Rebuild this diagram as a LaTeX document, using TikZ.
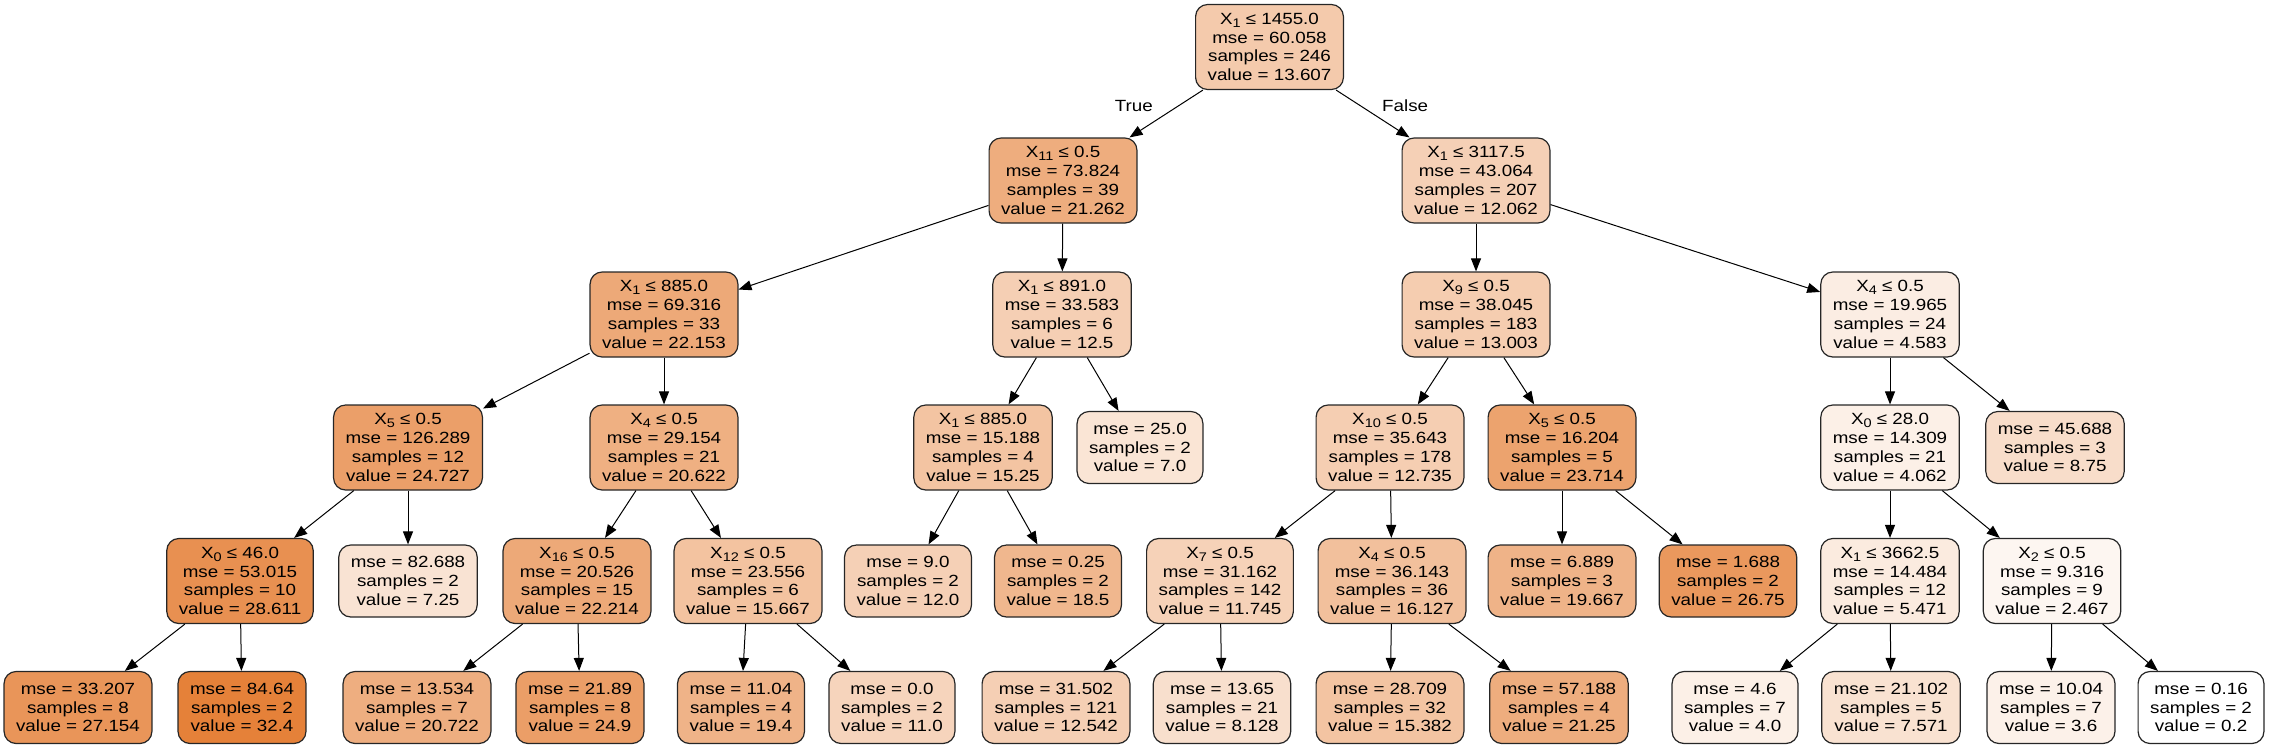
\documentclass[tikz,border=0pt]{standalone}
\usepackage{fontspec}
\setmainfont{Liberation Sans}[FakeStretch=1.16]
\usetikzlibrary{arrows.meta}
\definecolor{tcol}{HTML}{E58139}
\newcommand{\Xs}[1]{X\raisebox{-3pt}{\fontsize{12.5}{12.5}\selectfont #1}}
\tikzset{
  box/.style={draw=black!85, line width=1.2pt, rounded corners=12pt, align=center,
    inner xsep=12pt, inner ysep=2pt, font=\fontsize{16.2}{18.8}\selectfont},
  split/.style={box, minimum height=85pt},
  leaf/.style={box, minimum height=72pt},
  arr/.style={->, line width=1pt},
}
\begin{document}
\begin{tikzpicture}[x=1pt,y=-1pt,>={Triangle[length=13pt,width=10pt]}]
\useasboundingbox (0,0) rectangle (2273,748);
% depth 0 and 1
\node[split,fill=tcol!42!white] (n0) at (1269.5,47) {\Xs{1} ≤ 1455.0\\mse = 60.058\\samples = 246\\value = 13.607};
\node[split,fill=tcol!65!white] (n1) at (1063,180.5) {\Xs{11} ≤ 0.5\\mse = 73.824\\samples = 39\\value = 21.262};
\node[split,fill=tcol!37!white] (n2) at (1476,180.5) {\Xs{1} ≤ 3117.5\\mse = 43.064\\samples = 207\\value = 12.062};
% depth 2
\node[split,fill=tcol!68!white] (n3) at (664,314.5) {\Xs{1} ≤ 885.0\\mse = 69.316\\samples = 33\\value = 22.153};
\node[split,fill=tcol!38!white] (n4) at (1062,314.5) {\Xs{1} ≤ 891.0\\mse = 33.583\\samples = 6\\value = 12.5};
\node[split,fill=tcol!40!white] (n5) at (1476,314.5) {\Xs{9} ≤ 0.5\\mse = 38.045\\samples = 183\\value = 13.003};
\node[split,fill=tcol!14!white] (n6) at (1890,314.5) {\Xs{4} ≤ 0.5\\mse = 19.965\\samples = 24\\value = 4.583};
% depth 3
\node[split,fill=tcol!76!white] (n7) at (408,447.5) {\Xs{5} ≤ 0.5\\mse = 126.289\\samples = 12\\value = 24.727};
\node[split,fill=tcol!63!white] (n8) at (664,447.5) {\Xs{4} ≤ 0.5\\mse = 29.154\\samples = 21\\value = 20.622};
\node[split,fill=tcol!47!white] (n9) at (983,447.5) {\Xs{1} ≤ 885.0\\mse = 15.188\\samples = 4\\value = 15.25};
\node[leaf,fill=tcol!21!white] (n10) at (1140,447.5) {mse = 25.0\\samples = 2\\value = 7.0};
\node[split,fill=tcol!39!white] (n11) at (1390,447.5) {\Xs{10} ≤ 0.5\\mse = 35.643\\samples = 178\\value = 12.735};
\node[split,fill=tcol!73!white] (n12) at (1562,447.5) {\Xs{5} ≤ 0.5\\mse = 16.204\\samples = 5\\value = 23.714};
\node[split,fill=tcol!12!white] (n13) at (1890,447.5) {\Xs{0} ≤ 28.0\\mse = 14.309\\samples = 21\\value = 4.062};
\node[leaf,fill=tcol!27!white] (n14) at (2055,447.5) {mse = 45.688\\samples = 3\\value = 8.75};
% depth 4
\node[split,fill=tcol!88!white] (n15) at (240,581) {\Xs{0} ≤ 46.0\\mse = 53.015\\samples = 10\\value = 28.611};
\node[leaf,fill=tcol!22!white] (n16) at (408,581) {mse = 82.688\\samples = 2\\value = 7.25};
\node[split,fill=tcol!68!white] (n17) at (577,581) {\Xs{16} ≤ 0.5\\mse = 20.526\\samples = 15\\value = 22.214};
\node[split,fill=tcol!48!white] (n18) at (748,581) {\Xs{12} ≤ 0.5\\mse = 23.556\\samples = 6\\value = 15.667};
\node[leaf,fill=tcol!37!white] (n19) at (908,581) {mse = 9.0\\samples = 2\\value = 12.0};
\node[leaf,fill=tcol!57!white] (n20) at (1058,581) {mse = 0.25\\samples = 2\\value = 18.5};
\node[split,fill=tcol!36!white] (n21) at (1220,581) {\Xs{7} ≤ 0.5\\mse = 31.162\\samples = 142\\value = 11.745};
\node[split,fill=tcol!50!white] (n22) at (1392,581) {\Xs{4} ≤ 0.5\\mse = 36.143\\samples = 36\\value = 16.127};
\node[leaf,fill=tcol!60!white] (n23) at (1562,581) {mse = 6.889\\samples = 3\\value = 19.667};
\node[leaf,fill=tcol!82!white] (n24) at (1728,581) {mse = 1.688\\samples = 2\\value = 26.75};
\node[split,fill=tcol!16!white] (n25) at (1890,581) {\Xs{1} ≤ 3662.5\\mse = 14.484\\samples = 12\\value = 5.471};
\node[split,fill=tcol!7!white] (n26) at (2052,581) {\Xs{2} ≤ 0.5\\mse = 9.316\\samples = 9\\value = 2.467};
% depth 5
\node[leaf,fill=tcol!84!white] (n27) at (78,707.5) {mse = 33.207\\samples = 8\\value = 27.154};
\node[leaf,fill=tcol] (n28) at (242,707.5) {mse = 84.64\\samples = 2\\value = 32.4};
\node[leaf,fill=tcol!64!white] (n29) at (417,707.5) {mse = 13.534\\samples = 7\\value = 20.722};
\node[leaf,fill=tcol!77!white] (n30) at (580,707.5) {mse = 21.89\\samples = 8\\value = 24.9};
\node[leaf,fill=tcol!60!white] (n31) at (741,707.5) {mse = 11.04\\samples = 4\\value = 19.4};
\node[leaf,fill=tcol!34!white] (n32) at (892,707.5) {mse = 0.0\\samples = 2\\value = 11.0};
\node[leaf,fill=tcol!38!white] (n33) at (1056,707.5) {mse = 31.502\\samples = 121\\value = 12.542};
\node[leaf,fill=tcol!25!white] (n34) at (1222,707.5) {mse = 13.65\\samples = 21\\value = 8.128};
\node[leaf,fill=tcol!47!white] (n35) at (1390,707.5) {mse = 28.709\\samples = 32\\value = 15.382};
\node[leaf,fill=tcol!65!white] (n36) at (1559,707.5) {mse = 57.188\\samples = 4\\value = 21.25};
\node[leaf,fill=tcol!12!white] (n37) at (1735,707.5) {mse = 4.6\\samples = 7\\value = 4.0};
\node[leaf,fill=tcol!23!white] (n38) at (1891,707.5) {mse = 21.102\\samples = 5\\value = 7.571};
\node[leaf,fill=tcol!11!white] (n39) at (2051,707.5) {mse = 10.04\\samples = 7\\value = 3.6};
\node[leaf,fill=white] (n40) at (2201,707.5) {mse = 0.16\\samples = 2\\value = 0.2};
% connectors
\draw[arr] (n0) -- (n1) node[pos=0.33,left=22pt,font=\fontsize{16.2}{18.8}\selectfont] {True};
\draw[arr] (n0) -- (n2) node[pos=0.33,right=18pt,font=\fontsize{16.2}{18.8}\selectfont] {False};
\foreach \p/\c in {n1/n3, n1/n4, n3/n7, n3/n8, n7/n15, n7/n16, n15/n27, n15/n28,
    n8/n17, n8/n18, n17/n29, n17/n30, n18/n31, n18/n32, n4/n9, n4/n10, n9/n19, n9/n20,
    n2/n5, n2/n6, n5/n11, n5/n12, n11/n21, n11/n22, n21/n33, n21/n34, n22/n35, n22/n36,
    n12/n23, n12/n24, n6/n13, n6/n14, n13/n25, n13/n26, n25/n37, n25/n38, n26/n39, n26/n40}
  \draw[arr] (\p) -- (\c);
\end{tikzpicture}
\end{document}
